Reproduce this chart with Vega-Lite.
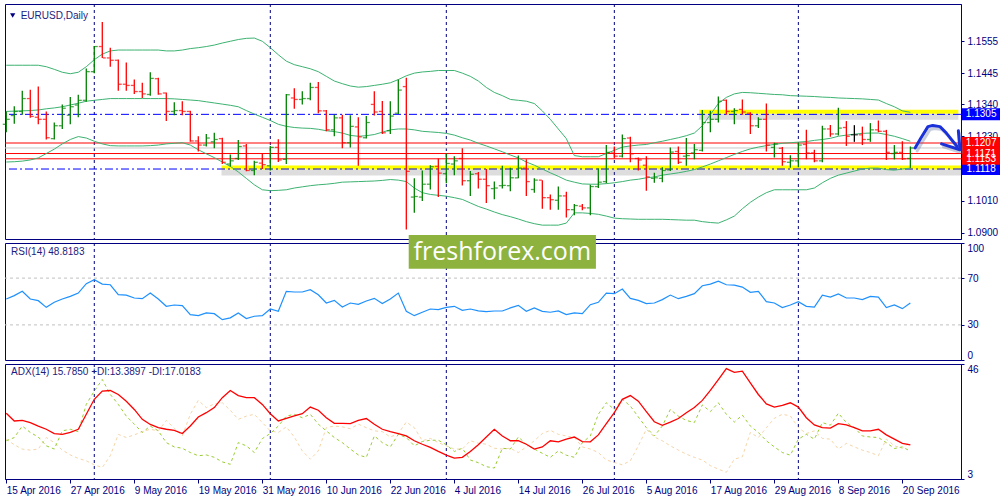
{
  "$schema": "https://vega.github.io/schema/vega-lite/v6.json",
  "padding": {"left": 2, "top": 3, "right": 0, "bottom": 0},
  "background": "white",
  "config": {
    "view": {"stroke": "#000080", "strokeWidth": 1},
    "axis": {"labelFont": "Liberation Sans", "labelFontSize": 10, "labelColor": "#000080", "domainColor": "#000080", "tickColor": "#000080", "grid": false, "labelOverlap": false},
    "text": {"font": "Liberation Sans"}
  },
  "datasets": {
    "d": [
      {"i":0,"o":1.1271,"h":1.1315,"l":1.1244,"c":1.1288,"bu":1.1473,"bm":1.1315,"bl":1.1142,"rsi":52.1,"adx":27.6,"pdi":17.3,"mdi":17.9},
      {"i":1,"o":1.1301,"h":1.1333,"l":1.1273,"c":1.1315,"bu":1.1473,"bm":1.1316,"bl":1.1143,"rsi":55.0,"adx":24.7,"pdi":18.5,"mdi":15.8},
      {"i":2,"o":1.1315,"h":1.1386,"l":1.1304,"c":1.1359,"bu":1.1473,"bm":1.1317,"bl":1.1145,"rsi":58.7,"adx":24.9,"pdi":22.8,"mdi":14.2},
      {"i":3,"o":1.1359,"h":1.1389,"l":1.1293,"c":1.1298,"bu":1.1473,"bm":1.1318,"bl":1.1149,"rsi":52.1,"adx":24.1,"pdi":20.4,"mdi":13.8},
      {"i":4,"o":1.1295,"h":1.1400,"l":1.1271,"c":1.1288,"bu":1.1473,"bm":1.1320,"bl":1.1156,"rsi":50.7,"adx":22.8,"pdi":18.7,"mdi":14.2},
      {"i":5,"o":1.1288,"h":1.1315,"l":1.1219,"c":1.1225,"bu":1.1468,"bm":1.1324,"bl":1.1171,"rsi":45.0,"adx":21.6,"pdi":15.4,"mdi":18.5},
      {"i":6,"o":1.1222,"h":1.1277,"l":1.1219,"c":1.1266,"bu":1.1459,"bm":1.1327,"bl":1.1186,"rsi":49.3,"adx":20.0,"pdi":14.2,"mdi":16.6},
      {"i":7,"o":1.1266,"h":1.1339,"l":1.1255,"c":1.1326,"bu":1.1449,"bm":1.1331,"bl":1.1204,"rsi":52.1,"adx":19.7,"pdi":21.0,"mdi":13.8},
      {"i":8,"o":1.1302,"h":1.1364,"l":1.1271,"c":1.1331,"bu":1.1444,"bm":1.1337,"bl":1.1219,"rsi":54.4,"adx":20.4,"pdi":21.6,"mdi":12.0},
      {"i":9,"o":1.1337,"h":1.1372,"l":1.1295,"c":1.1353,"bu":1.1449,"bm":1.1343,"bl":1.1229,"rsi":57.2,"adx":21.6,"pdi":20.7,"mdi":10.7},
      {"i":10,"o":1.1353,"h":1.1462,"l":1.1348,"c":1.1451,"bu":1.1468,"bm":1.1350,"bl":1.1224,"rsi":65.2,"adx":27.2,"pdi":30.9,"mdi":9.8},
      {"i":11,"o":1.1451,"h":1.1539,"l":1.1446,"c":1.1537,"bu":1.1492,"bm":1.1353,"bl":1.1213,"rsi":68.6,"adx":32.8,"pdi":35.9,"mdi":8.3},
      {"i":12,"o":1.1537,"h":1.1621,"l":1.1498,"c":1.1498,"bu":1.1511,"bm":1.1356,"bl":1.1204,"rsi":64.9,"adx":35.9,"pdi":40.2,"mdi":7.3},
      {"i":13,"o":1.1498,"h":1.1533,"l":1.1468,"c":1.1490,"bu":1.1522,"bm":1.1359,"bl":1.1198,"rsi":64.3,"adx":36.1,"pdi":34.6,"mdi":11.7},
      {"i":14,"o":1.1490,"h":1.1493,"l":1.1386,"c":1.1408,"bu":1.1525,"bm":1.1359,"bl":1.1197,"rsi":55.8,"adx":34.6,"pdi":30.9,"mdi":19.7},
      {"i":15,"o":1.1408,"h":1.1482,"l":1.1386,"c":1.1404,"bu":1.1525,"bm":1.1359,"bl":1.1197,"rsi":55.5,"adx":32.1,"pdi":26.5,"mdi":18.5},
      {"i":16,"o":1.1404,"h":1.1424,"l":1.1375,"c":1.1383,"bu":1.1525,"bm":1.1359,"bl":1.1197,"rsi":53.0,"adx":29.0,"pdi":23.5,"mdi":19.5},
      {"i":17,"o":1.1383,"h":1.1413,"l":1.1361,"c":1.1375,"bu":1.1525,"bm":1.1359,"bl":1.1197,"rsi":52.4,"adx":25.3,"pdi":20.4,"mdi":20.7},
      {"i":18,"o":1.1373,"h":1.1449,"l":1.1369,"c":1.1428,"bu":1.1525,"bm":1.1359,"bl":1.1198,"rsi":57.2,"adx":23.4,"pdi":22.8,"mdi":21.6},
      {"i":19,"o":1.1427,"h":1.1430,"l":1.1372,"c":1.1375,"bu":1.1525,"bm":1.1359,"bl":1.1200,"rsi":52.1,"adx":22.2,"pdi":21.0,"mdi":21.0},
      {"i":20,"o":1.1378,"h":1.1380,"l":1.1282,"c":1.1315,"bu":1.1522,"bm":1.1359,"bl":1.1204,"rsi":45.9,"adx":21.6,"pdi":16.6,"mdi":24.9},
      {"i":21,"o":1.1315,"h":1.1346,"l":1.1302,"c":1.1318,"bu":1.1522,"bm":1.1358,"bl":1.1206,"rsi":47.0,"adx":21.2,"pdi":15.0,"mdi":22.0},
      {"i":22,"o":1.1318,"h":1.1350,"l":1.1302,"c":1.1315,"bu":1.1525,"bm":1.1356,"bl":1.1208,"rsi":46.5,"adx":20.0,"pdi":14.5,"mdi":19.1},
      {"i":23,"o":1.1315,"h":1.1317,"l":1.1211,"c":1.1214,"bu":1.1530,"bm":1.1354,"bl":1.1200,"rsi":38.8,"adx":22.8,"pdi":12.9,"mdi":27.2},
      {"i":24,"o":1.1214,"h":1.1230,"l":1.1178,"c":1.1200,"bu":1.1533,"bm":1.1352,"bl":1.1184,"rsi":37.9,"adx":26.2,"pdi":11.7,"mdi":32.4},
      {"i":25,"o":1.1200,"h":1.1238,"l":1.1195,"c":1.1224,"bu":1.1537,"bm":1.1348,"bl":1.1170,"rsi":40.2,"adx":27.8,"pdi":12.0,"mdi":29.7},
      {"i":26,"o":1.1211,"h":1.1242,"l":1.1189,"c":1.1219,"bu":1.1542,"bm":1.1344,"bl":1.1157,"rsi":39.6,"adx":29.7,"pdi":11.1,"mdi":31.1},
      {"i":27,"o":1.1222,"h":1.1225,"l":1.1135,"c":1.1141,"bu":1.1549,"bm":1.1340,"bl":1.1142,"rsi":34.5,"adx":33.4,"pdi":9.4,"mdi":31.5},
      {"i":28,"o":1.1135,"h":1.1168,"l":1.1127,"c":1.1146,"bu":1.1555,"bm":1.1336,"bl":1.1127,"rsi":36.0,"adx":36.1,"pdi":8.5,"mdi":28.7},
      {"i":29,"o":1.1154,"h":1.1217,"l":1.1149,"c":1.1195,"bu":1.1561,"bm":1.1331,"bl":1.1108,"rsi":40.2,"adx":34.2,"pdi":16.6,"mdi":25.3},
      {"i":30,"o":1.1197,"h":1.1204,"l":1.1110,"c":1.1113,"bu":1.1565,"bm":1.1318,"bl":1.1086,"rsi":35.4,"adx":33.4,"pdi":15.4,"mdi":26.5},
      {"i":31,"o":1.1113,"h":1.1146,"l":1.1097,"c":1.1141,"bu":1.1566,"bm":1.1306,"bl":1.1064,"rsi":37.4,"adx":33.4,"pdi":12.9,"mdi":27.2},
      {"i":32,"o":1.1138,"h":1.1173,"l":1.1118,"c":1.1133,"bu":1.1555,"bm":1.1295,"bl":1.1047,"rsi":37.9,"adx":30.9,"pdi":18.1,"mdi":24.1},
      {"i":33,"o":1.1129,"h":1.1197,"l":1.1113,"c":1.1192,"bu":1.1533,"bm":1.1284,"bl":1.1044,"rsi":43.6,"adx":27.4,"pdi":20.0,"mdi":21.0},
      {"i":34,"o":1.1192,"h":1.1220,"l":1.1142,"c":1.1149,"bu":1.1509,"bm":1.1271,"bl":1.1045,"rsi":41.6,"adx":24.7,"pdi":22.8,"mdi":20.4},
      {"i":35,"o":1.1151,"h":1.1375,"l":1.1135,"c":1.1372,"bu":1.1487,"bm":1.1264,"bl":1.1047,"rsi":58.7,"adx":25.7,"pdi":26.5,"mdi":22.5},
      {"i":36,"o":1.1361,"h":1.1394,"l":1.1324,"c":1.1356,"bu":1.1475,"bm":1.1260,"bl":1.1053,"rsi":58.1,"adx":26.6,"pdi":27.2,"mdi":18.7},
      {"i":37,"o":1.1356,"h":1.1384,"l":1.1339,"c":1.1359,"bu":1.1468,"bm":1.1258,"bl":1.1057,"rsi":58.1,"adx":27.4,"pdi":25.9,"mdi":13.5},
      {"i":38,"o":1.1359,"h":1.1413,"l":1.1353,"c":1.1397,"bu":1.1461,"bm":1.1257,"bl":1.1061,"rsi":60.1,"adx":29.9,"pdi":27.2,"mdi":10.4},
      {"i":39,"o":1.1397,"h":1.1416,"l":1.1309,"c":1.1317,"bu":1.1451,"bm":1.1254,"bl":1.1064,"rsi":55.8,"adx":28.7,"pdi":23.5,"mdi":13.5},
      {"i":40,"o":1.1317,"h":1.1320,"l":1.1247,"c":1.1252,"bu":1.1435,"bm":1.1249,"bl":1.1066,"rsi":48.7,"adx":25.9,"pdi":21.0,"mdi":22.2},
      {"i":41,"o":1.1252,"h":1.1304,"l":1.1230,"c":1.1293,"bu":1.1419,"bm":1.1246,"bl":1.1069,"rsi":51.0,"adx":23.8,"pdi":18.5,"mdi":22.8},
      {"i":42,"o":1.1293,"h":1.1304,"l":1.1189,"c":1.1208,"bu":1.1410,"bm":1.1241,"bl":1.1073,"rsi":45.3,"adx":23.8,"pdi":16.6,"mdi":22.5},
      {"i":43,"o":1.1208,"h":1.1302,"l":1.1192,"c":1.1264,"bu":1.1402,"bm":1.1233,"bl":1.1074,"rsi":48.7,"adx":23.7,"pdi":14.2,"mdi":21.8},
      {"i":44,"o":1.1262,"h":1.1295,"l":1.1129,"c":1.1228,"bu":1.1398,"bm":1.1230,"bl":1.1075,"rsi":47.6,"adx":24.9,"pdi":12.0,"mdi":23.5},
      {"i":45,"o":1.1225,"h":1.1299,"l":1.1222,"c":1.1277,"bu":1.1400,"bm":1.1232,"bl":1.1076,"rsi":50.4,"adx":25.6,"pdi":11.1,"mdi":22.2},
      {"i":46,"o":1.1339,"h":1.1384,"l":1.1301,"c":1.1313,"bu":1.1404,"bm":1.1236,"bl":1.1077,"rsi":52.7,"adx":23.5,"pdi":19.1,"mdi":21.0},
      {"i":47,"o":1.1315,"h":1.1351,"l":1.1238,"c":1.1242,"bu":1.1408,"bm":1.1244,"bl":1.1079,"rsi":48.2,"adx":21.6,"pdi":16.6,"mdi":20.7},
      {"i":48,"o":1.1249,"h":1.1350,"l":1.1238,"c":1.1299,"bu":1.1413,"bm":1.1252,"bl":1.1082,"rsi":52.1,"adx":20.7,"pdi":15.0,"mdi":18.7},
      {"i":49,"o":1.1309,"h":1.1424,"l":1.1306,"c":1.1388,"bu":1.1424,"bm":1.1255,"bl":1.1080,"rsi":57.2,"adx":20.0,"pdi":19.7,"mdi":20.0},
      {"i":50,"o":1.1400,"h":1.1430,"l":1.0911,"c":1.1110,"bu":1.1437,"bm":1.1255,"bl":1.1075,"rsi":41.6,"adx":19.1,"pdi":18.5,"mdi":24.3},
      {"i":51,"o":1.1022,"h":1.1086,"l":1.0968,"c":1.1024,"bu":1.1446,"bm":1.1252,"bl":1.1053,"rsi":37.9,"adx":17.3,"pdi":15.4,"mdi":22.2},
      {"i":52,"o":1.1022,"h":1.1113,"l":1.1009,"c":1.1066,"bu":1.1450,"bm":1.1247,"bl":1.1037,"rsi":40.8,"adx":16.0,"pdi":17.0,"mdi":17.3},
      {"i":53,"o":1.1066,"h":1.1131,"l":1.1048,"c":1.1126,"bu":1.1452,"bm":1.1245,"bl":1.1031,"rsi":43.6,"adx":14.8,"pdi":17.5,"mdi":18.2},
      {"i":54,"o":1.1127,"h":1.1154,"l":1.1022,"c":1.1104,"bu":1.1455,"bm":1.1243,"bl":1.1028,"rsi":43.0,"adx":13.3,"pdi":17.5,"mdi":16.6},
      {"i":55,"o":1.1102,"h":1.1171,"l":1.1069,"c":1.1137,"bu":1.1455,"bm":1.1240,"bl":1.1025,"rsi":45.0,"adx":11.9,"pdi":15.8,"mdi":15.4},
      {"i":56,"o":1.1135,"h":1.1162,"l":1.1097,"c":1.1146,"bu":1.1455,"bm":1.1234,"bl":1.1020,"rsi":45.9,"adx":10.8,"pdi":13.3,"mdi":14.2},
      {"i":57,"o":1.1154,"h":1.1189,"l":1.1062,"c":1.1078,"bu":1.1446,"bm":1.1225,"bl":1.1014,"rsi":42.5,"adx":11.1,"pdi":14.5,"mdi":14.2},
      {"i":58,"o":1.1078,"h":1.1111,"l":1.1026,"c":1.1100,"bu":1.1435,"bm":1.1217,"bl":1.1002,"rsi":43.6,"adx":13.3,"pdi":10.1,"mdi":17.3},
      {"i":59,"o":1.1102,"h":1.1108,"l":1.1051,"c":1.1083,"bu":1.1419,"bm":1.1206,"bl":1.0990,"rsi":42.0,"adx":15.8,"pdi":9.1,"mdi":16.4},
      {"i":60,"o":1.1083,"h":1.1118,"l":1.1002,"c":1.1061,"bu":1.1397,"bm":1.1197,"bl":1.0981,"rsi":41.3,"adx":18.7,"pdi":7.6,"mdi":16.0},
      {"i":61,"o":1.1051,"h":1.1075,"l":1.1015,"c":1.1053,"bu":1.1380,"bm":1.1187,"bl":1.0971,"rsi":41.9,"adx":21.6,"pdi":7.1,"mdi":14.5},
      {"i":62,"o":1.1061,"h":1.1129,"l":1.1051,"c":1.1062,"bu":1.1369,"bm":1.1177,"bl":1.0962,"rsi":41.9,"adx":19.1,"pdi":14.5,"mdi":14.2},
      {"i":63,"o":1.1061,"h":1.1122,"l":1.1042,"c":1.1088,"bu":1.1356,"bm":1.1166,"bl":1.0955,"rsi":44.5,"adx":17.3,"pdi":14.2,"mdi":14.5},
      {"i":64,"o":1.1088,"h":1.1164,"l":1.1086,"c":1.1121,"bu":1.1353,"bm":1.1156,"bl":1.0947,"rsi":46.7,"adx":17.3,"pdi":18.7,"mdi":12.9},
      {"i":65,"o":1.1121,"h":1.1151,"l":1.1026,"c":1.1075,"bu":1.1350,"bm":1.1142,"bl":1.0938,"rsi":41.6,"adx":16.0,"pdi":16.0,"mdi":15.0},
      {"i":66,"o":1.1048,"h":1.1086,"l":1.1037,"c":1.1080,"bu":1.1342,"bm":1.1131,"bl":1.0931,"rsi":44.5,"adx":14.2,"pdi":14.2,"mdi":17.3},
      {"i":67,"o":1.1080,"h":1.1080,"l":1.0982,"c":1.1020,"bu":1.1317,"bm":1.1118,"bl":1.0926,"rsi":41.6,"adx":15.0,"pdi":12.6,"mdi":20.0},
      {"i":68,"o":1.1020,"h":1.1031,"l":1.0979,"c":1.1013,"bu":1.1288,"bm":1.1105,"bl":1.0926,"rsi":40.8,"adx":17.3,"pdi":11.1,"mdi":21.2},
      {"i":69,"o":1.1011,"h":1.1058,"l":1.0979,"c":1.1026,"bu":1.1255,"bm":1.1093,"bl":1.0926,"rsi":41.9,"adx":16.9,"pdi":13.5,"mdi":19.7},
      {"i":70,"o":1.1026,"h":1.1040,"l":1.0952,"c":1.0979,"bu":1.1222,"bm":1.1080,"bl":1.0933,"rsi":38.8,"adx":17.9,"pdi":11.9,"mdi":19.1},
      {"i":71,"o":1.0979,"h":1.0998,"l":1.0960,"c":1.0993,"bu":1.1164,"bm":1.1073,"bl":1.0968,"rsi":40.2,"adx":18.7,"pdi":11.1,"mdi":18.5},
      {"i":72,"o":1.0991,"h":1.0998,"l":1.0977,"c":1.0985,"bu":1.1160,"bm":1.1067,"bl":1.0968,"rsi":39.6,"adx":17.0,"pdi":16.6,"mdi":15.0},
      {"i":73,"o":1.0985,"h":1.1064,"l":1.0960,"c":1.1058,"bu":1.1160,"bm":1.1066,"bl":1.0966,"rsi":47.3,"adx":16.9,"pdi":19.1,"mdi":14.2},
      {"i":74,"o":1.1058,"h":1.1121,"l":1.1053,"c":1.1073,"bu":1.1160,"bm":1.1066,"bl":1.0963,"rsi":49.3,"adx":19.5,"pdi":27.2,"mdi":12.9},
      {"i":75,"o":1.1075,"h":1.1200,"l":1.1069,"c":1.1175,"bu":1.1171,"bm":1.1068,"bl":1.0957,"rsi":57.2,"adx":23.7,"pdi":31.5,"mdi":10.1},
      {"i":76,"o":1.1173,"h":1.1195,"l":1.1154,"c":1.1162,"bu":1.1182,"bm":1.1071,"bl":1.0950,"rsi":56.7,"adx":27.8,"pdi":29.0,"mdi":9.2},
      {"i":77,"o":1.1162,"h":1.1236,"l":1.1157,"c":1.1222,"bu":1.1193,"bm":1.1075,"bl":1.0948,"rsi":60.6,"adx":32.8,"pdi":32.8,"mdi":8.3},
      {"i":78,"o":1.1224,"h":1.1228,"l":1.1141,"c":1.1170,"bu":1.1197,"bm":1.1080,"bl":1.0947,"rsi":52.7,"adx":34.2,"pdi":30.3,"mdi":9.8},
      {"i":79,"o":1.1154,"h":1.1157,"l":1.1113,"c":1.1149,"bu":1.1200,"bm":1.1083,"bl":1.0946,"rsi":51.0,"adx":32.1,"pdi":26.2,"mdi":15.4},
      {"i":80,"o":1.1131,"h":1.1162,"l":1.1044,"c":1.1091,"bu":1.1202,"bm":1.1088,"bl":1.0946,"rsi":48.2,"adx":28.2,"pdi":22.2,"mdi":21.6},
      {"i":81,"o":1.1086,"h":1.1105,"l":1.1071,"c":1.1088,"bu":1.1208,"bm":1.1091,"bl":1.0946,"rsi":48.7,"adx":24.4,"pdi":19.1,"mdi":18.7},
      {"i":82,"o":1.1086,"h":1.1124,"l":1.1073,"c":1.1113,"bu":1.1213,"bm":1.1097,"bl":1.0946,"rsi":51.6,"adx":23.1,"pdi":22.8,"mdi":17.3},
      {"i":83,"o":1.1115,"h":1.1192,"l":1.1111,"c":1.1176,"bu":1.1219,"bm":1.1101,"bl":1.0945,"rsi":55.5,"adx":24.3,"pdi":29.0,"mdi":15.4},
      {"i":84,"o":1.1178,"h":1.1195,"l":1.1135,"c":1.1141,"bu":1.1225,"bm":1.1105,"bl":1.0944,"rsi":52.4,"adx":25.6,"pdi":26.5,"mdi":13.8},
      {"i":85,"o":1.1162,"h":1.1224,"l":1.1129,"c":1.1164,"bu":1.1232,"bm":1.1110,"bl":1.0943,"rsi":54.4,"adx":27.8,"pdi":24.9,"mdi":12.3},
      {"i":86,"o":1.1173,"h":1.1204,"l":1.1151,"c":1.1184,"bu":1.1241,"bm":1.1116,"bl":1.0943,"rsi":56.7,"adx":29.7,"pdi":24.1,"mdi":11.1},
      {"i":87,"o":1.1182,"h":1.1320,"l":1.1178,"c":1.1277,"bu":1.1266,"bm":1.1125,"bl":1.0938,"rsi":63.5,"adx":32.4,"pdi":30.7,"mdi":10.1},
      {"i":88,"o":1.1277,"h":1.1317,"l":1.1244,"c":1.1288,"bu":1.1304,"bm":1.1135,"bl":1.0935,"rsi":64.9,"adx":36.1,"pdi":28.2,"mdi":8.0},
      {"i":89,"o":1.1288,"h":1.1366,"l":1.1277,"c":1.1350,"bu":1.1342,"bm":1.1146,"bl":1.0933,"rsi":67.4,"adx":40.2,"pdi":31.5,"mdi":6.7},
      {"i":90,"o":1.1353,"h":1.1356,"l":1.1304,"c":1.1315,"bu":1.1363,"bm":1.1157,"bl":1.0944,"rsi":64.3,"adx":44.3,"pdi":27.2,"mdi":5.5},
      {"i":91,"o":1.1315,"h":1.1326,"l":1.1271,"c":1.1318,"bu":1.1375,"bm":1.1168,"bl":1.0957,"rsi":64.0,"adx":42.9,"pdi":24.3,"mdi":10.4},
      {"i":92,"o":1.1322,"h":1.1356,"l":1.1304,"c":1.1313,"bu":1.1380,"bm":1.1178,"bl":1.0982,"rsi":62.3,"adx":43.3,"pdi":26.9,"mdi":11.3},
      {"i":93,"o":1.1309,"h":1.1312,"l":1.1238,"c":1.1266,"bu":1.1379,"bm":1.1187,"bl":1.1004,"rsi":57.8,"adx":38.9,"pdi":22.8,"mdi":20.4},
      {"i":94,"o":1.1266,"h":1.1295,"l":1.1258,"c":1.1288,"bu":1.1377,"bm":1.1193,"bl":1.1022,"rsi":58.7,"adx":34.6,"pdi":20.4,"mdi":18.5},
      {"i":95,"o":1.1288,"h":1.1342,"l":1.1178,"c":1.1200,"bu":1.1375,"bm":1.1198,"bl":1.1037,"rsi":49.9,"adx":31.1,"pdi":17.3,"mdi":22.2},
      {"i":96,"o":1.1192,"h":1.1208,"l":1.1157,"c":1.1204,"bu":1.1373,"bm":1.1202,"bl":1.1047,"rsi":48.7,"adx":29.9,"pdi":15.0,"mdi":25.7},
      {"i":97,"o":1.1189,"h":1.1193,"l":1.1129,"c":1.1143,"bu":1.1372,"bm":1.1206,"bl":1.1047,"rsi":44.8,"adx":30.5,"pdi":12.9,"mdi":27.2},
      {"i":98,"o":1.1141,"h":1.1165,"l":1.1122,"c":1.1146,"bu":1.1369,"bm":1.1208,"bl":1.1047,"rsi":47.0,"adx":31.5,"pdi":11.9,"mdi":26.6},
      {"i":99,"o":1.1146,"h":1.1208,"l":1.1124,"c":1.1200,"bu":1.1368,"bm":1.1210,"bl":1.1047,"rsi":49.9,"adx":29.9,"pdi":17.9,"mdi":22.2},
      {"i":100,"o":1.1202,"h":1.1252,"l":1.1151,"c":1.1173,"bu":1.1367,"bm":1.1212,"bl":1.1047,"rsi":45.9,"adx":25.9,"pdi":19.7,"mdi":20.0},
      {"i":101,"o":1.1173,"h":1.1184,"l":1.1141,"c":1.1146,"bu":1.1366,"bm":1.1216,"bl":1.1053,"rsi":45.3,"adx":23.2,"pdi":17.9,"mdi":21.0},
      {"i":102,"o":1.1146,"h":1.1266,"l":1.1141,"c":1.1255,"bu":1.1364,"bm":1.1219,"bl":1.1071,"rsi":55.5,"adx":22.2,"pdi":24.1,"mdi":18.2},
      {"i":103,"o":1.1255,"h":1.1269,"l":1.1228,"c":1.1238,"bu":1.1363,"bm":1.1223,"bl":1.1086,"rsi":53.8,"adx":22.0,"pdi":23.1,"mdi":17.9},
      {"i":104,"o":1.1238,"h":1.1328,"l":1.1233,"c":1.1258,"bu":1.1361,"bm":1.1230,"bl":1.1097,"rsi":56.4,"adx":23.7,"pdi":27.6,"mdi":14.2},
      {"i":105,"o":1.1260,"h":1.1282,"l":1.1197,"c":1.1230,"bu":1.1360,"bm":1.1234,"bl":1.1104,"rsi":53.0,"adx":23.2,"pdi":24.1,"mdi":16.3},
      {"i":106,"o":1.1235,"h":1.1268,"l":1.1211,"c":1.1235,"bu":1.1359,"bm":1.1237,"bl":1.1111,"rsi":53.0,"adx":22.2,"pdi":22.2,"mdi":15.0},
      {"i":107,"o":1.1235,"h":1.1263,"l":1.1200,"c":1.1219,"bu":1.1358,"bm":1.1240,"bl":1.1118,"rsi":51.6,"adx":21.0,"pdi":19.1,"mdi":13.8},
      {"i":108,"o":1.1219,"h":1.1275,"l":1.1211,"c":1.1252,"bu":1.1356,"bm":1.1241,"bl":1.1121,"rsi":54.4,"adx":21.0,"pdi":18.7,"mdi":12.9},
      {"i":109,"o":1.1252,"h":1.1284,"l":1.1244,"c":1.1247,"bu":1.1354,"bm":1.1241,"bl":1.1121,"rsi":53.8,"adx":21.6,"pdi":18.5,"mdi":11.7},
      {"i":110,"o":1.1247,"h":1.1252,"l":1.1149,"c":1.1175,"bu":1.1342,"bm":1.1236,"bl":1.1116,"rsi":44.8,"adx":19.5,"pdi":16.6,"mdi":17.9},
      {"i":111,"o":1.1171,"h":1.1200,"l":1.1151,"c":1.1175,"bu":1.1331,"bm":1.1230,"bl":1.1114,"rsi":47.0,"adx":17.9,"pdi":14.4,"mdi":15.4},
      {"i":112,"o":1.1175,"h":1.1213,"l":1.1149,"c":1.1153,"bu":1.1317,"bm":1.1222,"bl":1.1118,"rsi":43.9,"adx":16.3,"pdi":15.0,"mdi":14.5},
      {"i":113,"o":1.1154,"h":1.1195,"l":1.1122,"c":1.1190,"bu":1.1312,"bm":1.1213,"bl":1.1121,"rsi":48.8,"adx":15.8,"pdi":13.4,"mdi":17.0}
    ],
    "months": [{"i": 11}, {"i": 33}, {"i": 55}, {"i": 76}, {"i": 99}],
    "levels": [
      {"p": 1.119, "k": "b"},
      {"p": 1.1207, "k": "r"}, {"p": 1.1171, "k": "r"}, {"p": 1.1153, "k": "r"},
      {"p": 1.1305, "k": "s"}, {"p": 1.1118, "k": "s"}
    ],
    "zones": [{"a": 26.9, "b": 119.33, "p": 1.1123}, {"a": 86.6, "b": 119.0, "p": 1.1314}],
    "tags": [
      {"p": 1.1305, "k": "s"}, {"p": 1.1118, "k": "s"},
      {"p": 1.1153, "k": "r"}, {"p": 1.1207, "k": "r"}, {"p": 1.1171, "k": "r"}
    ],
    "arrow": [
      {"s": "a", "k": 0, "i": 113.6, "p": 1.1190},
      {"s": "a", "k": 1, "i": 114.3, "p": 1.1223},
      {"s": "a", "k": 2, "i": 115.2, "p": 1.1263},
      {"s": "a", "k": 3, "i": 115.8, "p": 1.1267},
      {"s": "a", "k": 4, "i": 116.7, "p": 1.1263},
      {"s": "a", "k": 5, "i": 117.5, "p": 1.1241},
      {"s": "a", "k": 6, "i": 118.2, "p": 1.1217},
      {"s": "a", "k": 7, "i": 118.85, "p": 1.1195},
      {"s": "b", "k": 0, "i": 119.0, "p": 1.1249},
      {"s": "b", "k": 1, "i": 119.2, "p": 1.1184},
      {"s": "b", "k": 2, "i": 116.9, "p": 1.1204}
    ],
    "rsilevels": [{"v": 30}, {"v": 70}]
  },
  "spacing": 4,
  "bounds": "flush",
  "resolve": {"scale": {"x": "independent", "y": "independent"}},
  "vconcat": [
    {
      "width": 956,
      "height": 235,
      "layer": [
        {
          "data": {"name": "months"},
          "mark": {"type": "rule", "color": "#000080", "strokeDash": [3, 3], "strokeWidth": 1},
          "encoding": {"x": {"field": "i", "type": "quantitative", "scale": {"domain": [-0.16, 119.33], "nice": false, "zero": false}, "axis": null}}
        },
        {
          "data": {"name": "zones"},
          "mark": {"type": "rule", "color": "#555555", "opacity": 0.2, "strokeWidth": 6, "yOffset": 5},
          "encoding": {
            "x": {"field": "a", "type": "quantitative", "scale": {"domain": [-0.16, 119.33], "nice": false, "zero": false}, "axis": null},
            "x2": {"field": "b"},
            "y": {"field": "p", "type": "quantitative", "scale": {"domain": [1.08957, 1.16654], "nice": false, "zero": false}}
          }
        },
        {
          "data": {"name": "zones"},
          "mark": {"type": "rule", "color": "#FFFF00", "strokeWidth": 4},
          "encoding": {
            "x": {"field": "a", "type": "quantitative", "scale": {"domain": [-0.16, 119.33], "nice": false, "zero": false}, "axis": null},
            "x2": {"field": "b"},
            "y": {"field": "p", "type": "quantitative", "scale": {"domain": [1.08957, 1.16654], "nice": false, "zero": false}}
          }
        },
        {
          "data": {"name": "levels"},
          "transform": [{"filter": "datum.k == 'b'"}],
          "mark": {"type": "rule", "color": "#C8C8C8", "strokeWidth": 1},
          "encoding": {"y": {"field": "p", "type": "quantitative", "scale": {"domain": [1.08957, 1.16654], "nice": false, "zero": false}}}
        },
        {
          "data": {"name": "levels"},
          "transform": [{"filter": "datum.k == 'r'"}],
          "mark": {"type": "rule", "color": "#FF0000", "strokeWidth": 1},
          "encoding": {"y": {"field": "p", "type": "quantitative", "scale": {"domain": [1.08957, 1.16654], "nice": false, "zero": false}}}
        },
        {
          "data": {"name": "levels"},
          "transform": [{"filter": "datum.k == 's'"}],
          "mark": {"type": "rule", "color": "#0000FF", "strokeWidth": 1, "strokeDash": [8, 3, 2, 3]},
          "encoding": {"y": {"field": "p", "type": "quantitative", "scale": {"domain": [1.08957, 1.16654], "nice": false, "zero": false}}}
        },
        {
          "data": {"name": "d"},
          "mark": {"type": "line", "color": "#3CB371", "strokeWidth": 1},
          "encoding": {
            "x": {"field": "i", "type": "quantitative", "scale": {"domain": [-0.16, 119.33], "nice": false, "zero": false}, "axis": null},
            "y": {"field": "bu", "type": "quantitative", "scale": {"domain": [1.08957, 1.16654], "nice": false, "zero": false},
                  "axis": {"orient": "right", "values": [1.1555, 1.1445, 1.134, 1.123, 1.112, 1.101, 1.09], "tickCount": 20, "format": ".4f", "title": null, "tickSize": 3, "labelPadding": 3, "labelOverlap": false}}
          }
        },
        {
          "data": {"name": "d"},
          "mark": {"type": "line", "color": "#3CB371", "strokeWidth": 1},
          "encoding": {
            "x": {"field": "i", "type": "quantitative", "scale": {"domain": [-0.16, 119.33], "nice": false, "zero": false}, "axis": null},
            "y": {"field": "bm", "type": "quantitative", "scale": {"domain": [1.08957, 1.16654], "nice": false, "zero": false}}
          }
        },
        {
          "data": {"name": "d"},
          "mark": {"type": "line", "color": "#3CB371", "strokeWidth": 1},
          "encoding": {
            "x": {"field": "i", "type": "quantitative", "scale": {"domain": [-0.16, 119.33], "nice": false, "zero": false}, "axis": null},
            "y": {"field": "bl", "type": "quantitative", "scale": {"domain": [1.08957, 1.16654], "nice": false, "zero": false}}
          }
        },
        {
          "data": {"name": "d"},
          "mark": {"type": "rule", "strokeWidth": 1.3},
          "encoding": {
            "x": {"field": "i", "type": "quantitative", "scale": {"domain": [-0.16, 119.33], "nice": false, "zero": false}, "axis": null},
            "y": {"field": "l", "type": "quantitative", "scale": {"domain": [1.08957, 1.16654], "nice": false, "zero": false}},
            "y2": {"field": "h"},
            "color": {"condition": [{"test": "datum.c > datum.o", "value": "#008000"}, {"test": "datum.c < datum.o", "value": "#FF0000"}], "value": "#000000"}
          }
        },
        {
          "data": {"name": "d"},
          "mark": {"type": "tick", "orient": "horizontal", "size": 3, "thickness": 1.3, "xOffset": -2},
          "encoding": {
            "x": {"field": "i", "type": "quantitative", "scale": {"domain": [-0.16, 119.33], "nice": false, "zero": false}, "axis": null},
            "y": {"field": "o", "type": "quantitative", "scale": {"domain": [1.08957, 1.16654], "nice": false, "zero": false}},
            "color": {"condition": [{"test": "datum.c > datum.o", "value": "#008000"}, {"test": "datum.c < datum.o", "value": "#FF0000"}], "value": "#000000"}
          }
        },
        {
          "data": {"name": "d"},
          "mark": {"type": "tick", "orient": "horizontal", "size": 3, "thickness": 1.3, "xOffset": 2},
          "encoding": {
            "x": {"field": "i", "type": "quantitative", "scale": {"domain": [-0.16, 119.33], "nice": false, "zero": false}, "axis": null},
            "y": {"field": "c", "type": "quantitative", "scale": {"domain": [1.08957, 1.16654], "nice": false, "zero": false}},
            "color": {"condition": [{"test": "datum.c > datum.o", "value": "#008000"}, {"test": "datum.c < datum.o", "value": "#FF0000"}], "value": "#000000"}
          }
        },
        {
          "data": {"name": "tags"},
          "mark": {"type": "bar", "height": 12},
          "encoding": {
            "x": {"datum": 119.45, "type": "quantitative", "scale": {"domain": [-0.16, 119.33], "nice": false, "zero": false}, "axis": null},
            "x2": {"datum": 124.3},
            "y": {"field": "p", "type": "quantitative", "scale": {"domain": [1.08957, 1.16654], "nice": false, "zero": false}},
            "color": {"field": "k", "type": "nominal", "scale": {"domain": ["s", "r"], "range": ["#0000FF", "#FF0000"]}, "legend": null}
          }
        },
        {
          "data": {"name": "tags"},
          "mark": {"type": "text", "color": "#FFFFFF", "fontSize": 10, "align": "center", "baseline": "middle"},
          "encoding": {
            "x": {"datum": 121.85, "type": "quantitative", "scale": {"domain": [-0.16, 119.33], "nice": false, "zero": false}, "axis": null},
            "y": {"field": "p", "type": "quantitative", "scale": {"domain": [1.08957, 1.16654], "nice": false, "zero": false}},
            "text": {"field": "p", "type": "quantitative", "format": ".4f"}
          }
        },
        {
          "data": {"name": "arrow"},
          "mark": {"type": "line", "color": "#6070A0", "opacity": 0.35, "strokeWidth": 3, "xOffset": 2, "yOffset": 3, "strokeCap": "round", "strokeJoin": "round"},
          "encoding": {
            "x": {"field": "i", "type": "quantitative", "scale": {"domain": [-0.16, 119.33], "nice": false, "zero": false}, "axis": null},
            "y": {"field": "p", "type": "quantitative", "scale": {"domain": [1.08957, 1.16654], "nice": false, "zero": false}},
            "detail": {"field": "s"},
            "order": {"field": "k"}
          }
        },
        {
          "data": {"name": "arrow"},
          "mark": {"type": "line", "color": "#1A30D8", "strokeWidth": 3, "strokeCap": "round", "strokeJoin": "round"},
          "encoding": {
            "x": {"field": "i", "type": "quantitative", "scale": {"domain": [-0.16, 119.33], "nice": false, "zero": false}, "axis": null},
            "y": {"field": "p", "type": "quantitative", "scale": {"domain": [1.08957, 1.16654], "nice": false, "zero": false}},
            "detail": {"field": "s"},
            "order": {"field": "k"}
          }
        },
        {
          "data": {"values": [{}]},
          "mark": {"type": "point", "shape": "triangle-down", "filled": true, "size": 28, "color": "#000080", "opacity": 1},
          "encoding": {
            "x": {"datum": 0.8, "type": "quantitative", "scale": {"domain": [-0.16, 119.33], "nice": false, "zero": false}, "axis": null},
            "y": {"datum": 1.1643, "type": "quantitative", "scale": {"domain": [1.08957, 1.16654], "nice": false, "zero": false}}
          }
        },
        {
          "data": {"values": [{}]},
          "mark": {"type": "text", "text": "EURUSD,Daily", "align": "left", "baseline": "middle", "fontSize": 10, "color": "#1C1C80"},
          "encoding": {
            "x": {"datum": 1.8, "type": "quantitative", "scale": {"domain": [-0.16, 119.33], "nice": false, "zero": false}, "axis": null},
            "y": {"datum": 1.1643, "type": "quantitative", "scale": {"domain": [1.08957, 1.16654], "nice": false, "zero": false}}
          }
        }
      ]
    },
    {
      "width": 956,
      "height": 117,
      "layer": [
        {
          "data": {"name": "months"},
          "mark": {"type": "rule", "color": "#000080", "strokeDash": [3, 3], "strokeWidth": 1},
          "encoding": {"x": {"field": "i", "type": "quantitative", "scale": {"domain": [-0.16, 119.33], "nice": false, "zero": false}, "axis": null}}
        },
        {
          "data": {"name": "rsilevels"},
          "mark": {"type": "rule", "color": "#C0C0C0", "strokeDash": [3, 3], "strokeWidth": 1},
          "encoding": {"y": {"field": "v", "type": "quantitative", "scale": {"domain": [0, 100], "nice": false}}}
        },
        {
          "data": {"name": "d"},
          "mark": {"type": "line", "color": "#1E90FF", "strokeWidth": 1.2},
          "encoding": {
            "x": {"field": "i", "type": "quantitative", "scale": {"domain": [-0.16, 119.33], "nice": false, "zero": false}, "axis": null},
            "y": {"field": "rsi", "type": "quantitative", "scale": {"domain": [0, 100], "nice": false},
                  "axis": {"orient": "right", "values": [0, 30, 70, 100], "tickCount": 20, "format": "d", "labelFlush": true, "labelOverlap": false, "title": null, "tickSize": 3, "labelPadding": 3}}
          }
        },
        {
          "data": {"values": [{}]},
          "mark": {"type": "rect", "color": "#8DB33E"},
          "encoding": {
            "x": {"datum": 50.3, "type": "quantitative", "scale": {"domain": [-0.16, 119.33], "nice": false, "zero": false}, "axis": null},
            "x2": {"datum": 73.7},
            "y": {"datum": 106.9, "type": "quantitative", "scale": {"domain": [0, 100], "nice": false}},
            "y2": {"datum": 77.9}
          }
        },
        {
          "data": {"values": [{}]},
          "mark": {"type": "text", "text": "freshforex.com", "font": "Open Sans", "fontSize": 25, "color": "#FFFFFF", "align": "center", "baseline": "middle"},
          "encoding": {
            "x": {"datum": 62.0, "type": "quantitative", "scale": {"domain": [-0.16, 119.33], "nice": false, "zero": false}, "axis": null},
            "y": {"datum": 92.5, "type": "quantitative", "scale": {"domain": [0, 100], "nice": false}}
          }
        },
        {
          "data": {"values": [{}]},
          "mark": {"type": "text", "text": "RSI(14) 48.8183", "align": "left", "baseline": "middle", "fontSize": 10, "color": "#1C1C80"},
          "encoding": {
            "x": {"datum": 0.6, "type": "quantitative", "scale": {"domain": [-0.16, 119.33], "nice": false, "zero": false}, "axis": null},
            "y": {"datum": 92.0, "type": "quantitative", "scale": {"domain": [0, 100], "nice": false}}
          }
        }
      ]
    },
    {
      "width": 956,
      "height": 115,
      "layer": [
        {
          "data": {"name": "months"},
          "mark": {"type": "rule", "color": "#000080", "strokeDash": [3, 3], "strokeWidth": 1},
          "encoding": {"x": {"field": "i", "type": "quantitative", "scale": {"domain": [-0.16, 119.33], "nice": false, "zero": false}}}
        },
        {
          "data": {"name": "d"},
          "mark": {"type": "line", "color": "#F5D5A8", "strokeWidth": 1, "strokeDash": [3, 3]},
          "encoding": {
            "x": {"field": "i", "type": "quantitative", "scale": {"domain": [-0.16, 119.33], "nice": false, "zero": false}},
            "y": {"field": "mdi", "type": "quantitative", "scale": {"domain": [3, 46], "nice": false, "zero": false}}
          }
        },
        {
          "data": {"name": "d"},
          "mark": {"type": "line", "color": "#9ACD32", "strokeWidth": 1, "strokeDash": [3, 3]},
          "encoding": {
            "x": {"field": "i", "type": "quantitative", "scale": {"domain": [-0.16, 119.33], "nice": false, "zero": false}},
            "y": {"field": "pdi", "type": "quantitative", "scale": {"domain": [3, 46], "nice": false, "zero": false}}
          }
        },
        {
          "data": {"name": "d"},
          "mark": {"type": "line", "color": "#FF0000", "strokeWidth": 1.3},
          "encoding": {
            "x": {"field": "i", "type": "quantitative", "scale": {"domain": [-0.16, 119.33], "nice": false, "zero": false},
                  "axis": {"values": [0, 8, 16, 24, 32, 40, 48, 56, 64, 72, 80, 88, 96, 104, 112], "tickCount": 30,
                           "labelExpr": "['15 Apr 2016','27 Apr 2016','9 May 2016','19 May 2016','31 May 2016','10 Jun 2016','22 Jun 2016','4 Jul 2016','14 Jul 2016','26 Jul 2016','5 Aug 2016','17 Aug 2016','29 Aug 2016','8 Sep 2016','20 Sep 2016'][round(datum.value / 8)]",
                           "labelAlign": "left", "labelFlush": false, "labelOverlap": false, "tickSize": 4, "labelPadding": 2, "title": null}},
            "y": {"field": "adx", "type": "quantitative", "scale": {"domain": [3, 46], "nice": false, "zero": false},
                  "axis": {"orient": "right", "values": [3, 46], "format": "d", "labelFlush": true, "labelOverlap": false, "title": null, "tickSize": 3, "labelPadding": 3}}
          }
        },
        {
          "data": {"values": [{}]},
          "mark": {"type": "text", "text": "ADX(14) 15.7850 +DI:13.3897 -DI:17.0183", "align": "left", "baseline": "middle", "fontSize": 10, "color": "#1C1C80"},
          "encoding": {
            "x": {"datum": 0.6, "type": "quantitative", "scale": {"domain": [-0.16, 119.33], "nice": false, "zero": false}},
            "y": {"datum": 42.9, "type": "quantitative", "scale": {"domain": [3, 46], "nice": false, "zero": false}}
          }
        }
      ]
    }
  ]
}
